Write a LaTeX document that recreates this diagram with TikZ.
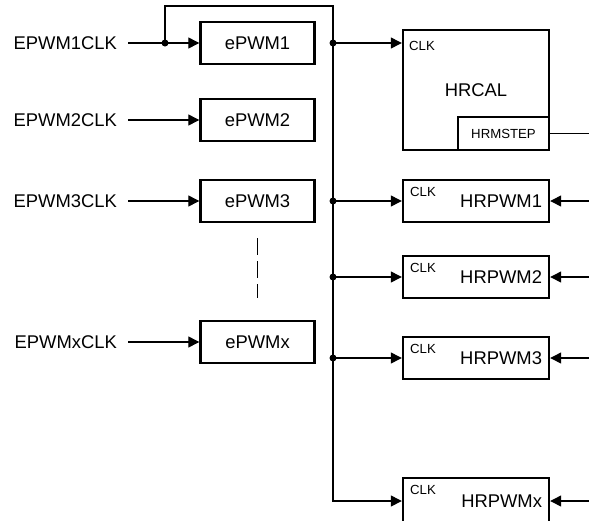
\documentclass[tikz,border=0pt]{standalone}
\usepackage{fontspec}
\setmainfont{Liberation Sans}
\usetikzlibrary{arrows.meta}
\begin{document}
\begin{tikzpicture}[x=0.5pt,y=-0.5pt,>={Triangle[length=5.5pt,width=5.5pt]},
  font=\fontsize{9.2}{11}\selectfont,
  box/.style={draw,line width=1.2pt,minimum height=21pt,inner sep=0pt},
  epwm/.style={box,minimum width=57pt},
  hrpwm/.style={box,minimum width=73pt,inner xsep=3.5pt,text width=66pt,align=right},
  clk/.style={font=\fontsize{6.6}{8}\selectfont,inner sep=0pt,anchor=north west},
  lbl/.style={anchor=east,inner xsep=5.5pt},
  wire/.style={line width=0.65pt}]
\useasboundingbox (0,0) rectangle (589,520);
\clip (0,0) rectangle (589,520);
% ePWM modules and their clocks
\node[epwm] (epwm1) at (257.5,43) {ePWM1};
\node[epwm] (epwm2) at (257.5,120) {ePWM2};
\node[epwm] (epwm3) at (257.5,201) {ePWM3};
\node[epwm] (epwmx) at (257.5,342) {ePWMx};
\foreach \n in {1,2,3,x}{
  \node[lbl,xshift=-35.5pt] (in\n) at (epwm\n.west) {EPWM\n CLK};
  \draw[wire,->] (in\n) -- (epwm\n);
}
\draw[wire,dash pattern=on 8.5pt off 3pt] (257.5,238) -- (257.5,298);
% HR calibration and HRPWM units
\node[box,minimum width=73pt,minimum height=60pt,
  label={[clk,xshift=3.5pt,yshift=-6pt]north west:CLK}] (hrcal) at (476,90) {HRCAL};
\node[box,minimum width=45.5pt,minimum height=16.5pt,font=\fontsize{6.6}{8}\selectfont,
  anchor=south east] (hrmstep) at (hrcal.south east) {HRMSTEP};
\foreach \n/\y/\h in {1/201/21pt,2/277/21pt,3/358/21pt,x/501/23pt}
  \node[hrpwm,minimum height=\h,label={[clk,xshift=4pt,yshift=-4pt]north west:CLK}] (hrpwm\n) at (476,\y) {HRPWM\n};
% clock bus
\coordinate (tap) at (165,43);
\coordinate (bustop) at (333,6);
\coordinate (edge) at (589,0);
\fill (tap) circle (1.75pt);
\draw[wire,->] (tap) |- (bustop) |- (hrpwmx.west);
\draw[wire,->] (bustop |- epwm1) -- (hrcal.west |- epwm1);
\fill (bustop |- epwm1) circle (1.75pt);
\foreach \n in {1,2,3}{
  \draw[wire,->] (bustop |- hrpwm\n) -- (hrpwm\n);
  \fill (bustop |- hrpwm\n) circle (1.75pt);
}
\foreach \n in {1,2,3,x}
  \draw[wire,->] (edge |- hrpwm\n) -- (hrpwm\n);
\draw[wire] (hrmstep) -- (edge |- hrmstep);
\end{tikzpicture}
\end{document}
